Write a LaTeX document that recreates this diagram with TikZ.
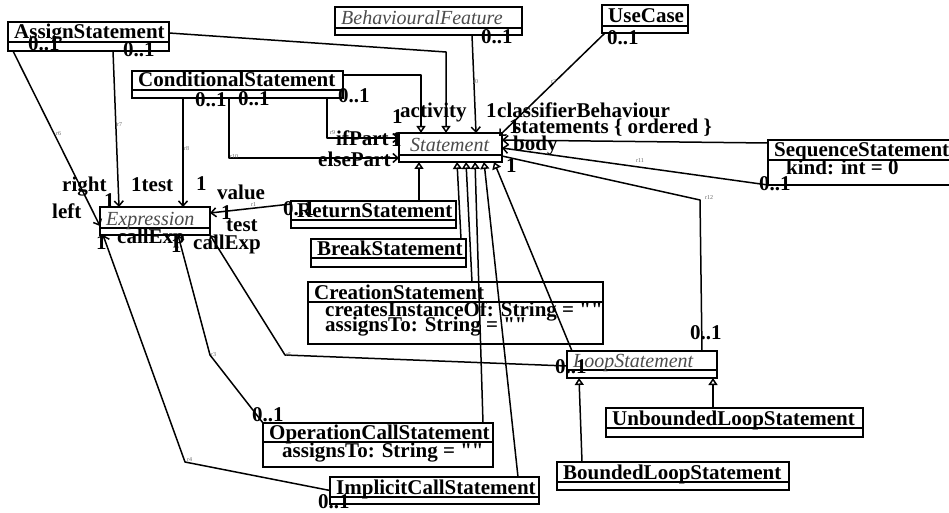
\documentclass[tikz,border=0pt]{standalone}
\usepackage{fontspec}
\setmainfont{Liberation Serif}
% same family without the TeX quote mapping, for straight quotes
\newfontfamily\rawserif{Liberation Serif}
\usetikzlibrary{arrows.meta}

\tikzset{
  clsbox/.style={draw, line width=1.8pt, inner sep=0pt, outer sep=0pt, anchor=north west},
  sepline/.style={line width=1.5pt},
  cname/.style={font=\bfseries\fontsize{21}{22}\selectfont, anchor=base west, inner sep=0pt},
  cabs/.style={font=\itshape\fontsize{20}{22}\selectfont, text=black!70, anchor=base west, inner sep=0pt},
  lbl/.style={font=\bfseries\fontsize{21}{22}\selectfont, anchor=base west, inner sep=0pt},
  rlbl/.style={font=\fontsize{6}{7}\selectfont, text=black!60, anchor=base west, inner sep=0pt},
  conn/.style={line width=1.5pt, line join=round},
  gen/.style={conn, -{Triangle[open, length=7pt, width=9pt]}},
  nav/.style={conn, -{Straight Barb[length=5pt, width=9pt]}},
}

% class box: name, x1, y1, x2, y of separator, y2, title style, title
\newcommand\umlclass[8]{%
  \pgfmathsetmacro\clsw{#4-#2}%
  \pgfmathsetmacro\clsh{#6-#3}%
  \node[clsbox, minimum width=\clsw pt, minimum height=\clsh pt] (#1) at (#2,#3) {};
  \draw[sepline] (#2,#5) -- (#4,#5);
  \node[#7] (#1-name) at ({#2+6},{#5-3}) {#8};
}
% empty string literal with straight quotes
\newcommand\emptystr{{\rawserif\bfseries\symbol{34}\symbol{34}}}

\begin{document}
\begin{tikzpicture}[x=1pt, y=-1pt]
\useasboundingbox (0,0) rectangle (949,513);
\fill[white] (0,0) rectangle (949,513);

% classes
\umlclass{assign}{8}{22}{169}{42}{51}{cname}{AssignStatement}
\umlclass{cond}{132}{71}{343}{90}{98}{cname}{ConditionalStatement}
\umlclass{behav}{335}{7}{522}{28}{35}{cabs}{BehaviouralFeature}
\umlclass{usecase}{602}{5}{688}{26}{33}{cname}{UseCase}
\umlclass{stmt}{399}{133}{502}{155}{162}{cabs}{\hspace{5pt}Statement}
\umlclass{seq}{768}{140}{960}{160}{185}{cname}{SequenceStatement}
\node[cname] (seq-a1) at (786,175) {kind: int = 0};
\umlclass{expr}{100}{207}{210}{228}{235}{cabs}{Expression}
\umlclass{ret}{291}{201}{456}{220}{228}{cname}{ReturnStatement}
\umlclass{brk}{311}{239}{466}{258}{267}{cname}{BreakStatement}
\umlclass{creat}{308}{282}{603}{302}{344}{cname}{CreationStatement}
\node[cname] (creat-a1) at (325,316) {createsInstanceOf: String = \emptystr};
\node[cname] (creat-a2) at (325,331) {assignsTo: String = \emptystr};
\umlclass{loop}{567}{351}{717}{370}{378}{cabs}{LoopStatement}
\umlclass{unb}{606}{408}{863}{428}{437}{cname}{UnboundedLoopStatement}
\umlclass{bnd}{557}{462}{789}{482}{490}{cname}{BoundedLoopStatement}
\umlclass{opc}{263}{423}{493}{442}{467}{cname}{OperationCallStatement}
\node[cname] (opc-a1) at (282,457) {assignsTo: String = \emptystr};
\umlclass{impl}{330}{477}{539}{497}{504}{cname}{ImplicitCallStatement}

% generalisations
\draw[gen] (assign.east |- 0,33) -- (446,52) -- (446,0 |- stmt.north);
\draw[gen] (cond.east |- 0,75) -- (421,75) -- (421,0 |- stmt.north);
\draw[gen] (419,0 |- ret.north) -- (419,0 |- stmt.south);
\draw[gen] (461,0 |- brk.north) -- (457,0 |- stmt.south);
\draw[gen] (472,0 |- creat.north) -- (466,0 |- stmt.south);
\draw[gen] (483,0 |- opc.north) -- (475,0 |- stmt.south);
\draw[gen] (518,0 |- impl.north) -- (484,0 |- stmt.south);
\draw[gen] (572,0 |- loop.north) -- (494,0 |- stmt.south);
\draw[gen] (713,0 |- unb.north) -- (713,0 |- loop.south);
\draw[gen] (582,0 |- bnd.north) -- (579,0 |- loop.south);

% associations
\draw[nav] (472,0 |- behav.south) -- (476,0 |- stmt.north);
\draw[nav] (605,0 |- usecase.south) -- (499,136);
\draw[nav] (seq.west |- 0,143) -- (stmt.east |- 0,140);
\draw[nav] (seq.south west) -- (stmt.east |- 0,148);
\draw[conn] (stmt.east |- 0,156) -- (700,200) -- (702,0 |- loop.north);
\draw[nav] (327,0 |- cond.south) -- (327,138) -- (stmt.west |- 0,138);
\draw[nav] (229,0 |- cond.south) -- (229,158) -- (stmt.west |- 0,158);
\draw[nav] (13,0 |- assign.south) -- (expr.west |- 0,226);
\draw[nav] (113,0 |- assign.south) -- (119,0 |- expr.north);
\draw[nav] (183,0 |- cond.south) -- (183,0 |- expr.north);
\draw[nav] (ret.west |- 0,204) -- (expr.east |- 0,213);
\draw[nav] (loop.west |- 0,366) -- (285,355) -- (expr.south east);
\draw[nav] (opc.north west) -- (210,355) -- (178,0 |- expr.south);
\draw[nav] (impl.west) -- (185,462) -- (103,0 |- expr.south);

% role names and multiplicities
\node[lbl] (m-as1) at (28,51) {0..1};
\node[lbl] (m-as2) at (123,57) {0..1};
\node[lbl] (m-cd1) at (195,107) {0..1};
\node[lbl] (m-cd2) at (238,106) {0..1};
\node[lbl] (m-cd3) at (338,103) {0..1};
\node[lbl] (m-bf) at (481,44) {0..1};
\node[lbl] (m-uc) at (607,45) {0..1};
\node[lbl] (m-act) at (392,124) {1};
\node[lbl] (r-act) at (400,118) {activity};
\node[lbl] (m-cb) at (486,118) {1};
\node[lbl] (r-cb) at (497,118) {classifierBehaviour};
\node[lbl] (m-st) at (509,134) {1};
\node[lbl] (r-st) at (513,134) {statements \{ ordered \}};
\node[lbl] (r-body) at (513,151) {body};
\node[lbl] (r-if) at (336,146) {ifPart};
\node[lbl] (m-if) at (391,147) {1};
\node[lbl] (r-else) at (318,167) {elsePart};
\node[lbl] (m-sb) at (506,172) {1};
\node[lbl] (m-seq) at (759,190) {0..1};
\node[lbl] (m-lp1) at (690,339) {0..1};
\node[lbl] (m-lp2) at (555,373) {0..1};
\node[lbl] (m-ret) at (283,215) {0..1};
\node[lbl] (r-right) at (62,191) {right};
\node[lbl] (r-left) at (52,218) {left};
\node[lbl] (m-ex1) at (104,207) {1};
\node[lbl] (r-test1) at (131,191) {1test};
\node[lbl] (m-ex2) at (196,190) {1};
\node[lbl] (r-value) at (217,199) {value};
\node[lbl] (m-ex3) at (221,219) {1};
\node[lbl] (r-test2) at (226,231) {test};
\node[lbl] (r-ce1) at (117,243) {callExp};
\node[lbl] (r-ce2) at (193,249) {callExp};
\node[lbl] (m-ex4) at (96,249) {1};
\node[lbl] (m-ex5) at (171,252) {1};
\node[lbl] (m-opc) at (252,421) {0..1};
\node[lbl] (m-impl) at (318,508) {0..1};

% association ids
\node[rlbl] (n-r0) at (473,84) {r0};
\node[rlbl] (n-r2) at (551,84) {r2};
\node[rlbl] (n-r11) at (636,162) {r11};
\node[rlbl] (n-r12) at (705,199) {r12};
\node[rlbl] (n-r6) at (56,136) {r6};
\node[rlbl] (n-r7) at (117,127) {r7};
\node[rlbl] (n-r8) at (184,150) {r8};
\node[rlbl] (n-r10) at (230,158) {r10};
\node[rlbl] (n-r9) at (330,135) {r9};
\node[rlbl] (n-r1) at (251,206) {r1};
\node[rlbl] (n-r5) at (286,356) {r5};
\node[rlbl] (n-r3) at (211,356) {r3};
\node[rlbl] (n-r4) at (187,461) {r4};
\end{tikzpicture}
\end{document}
